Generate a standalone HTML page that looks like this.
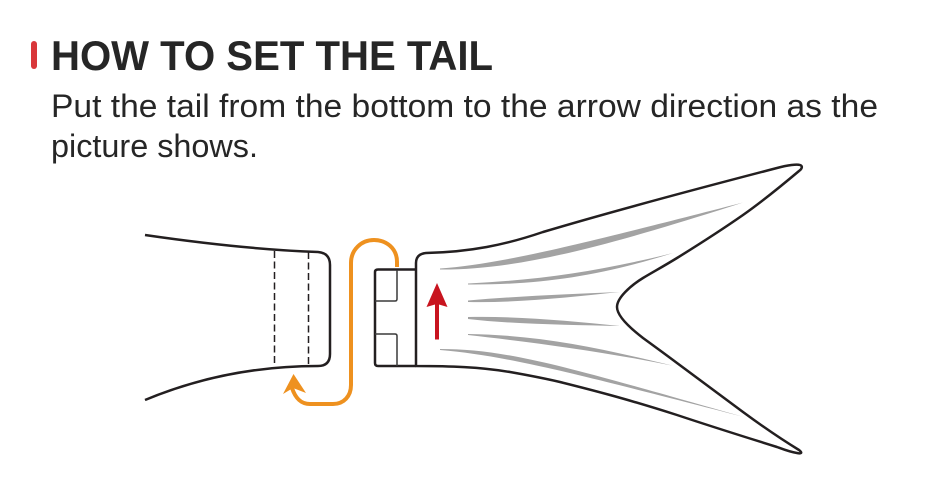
<!DOCTYPE html>
<html><head><meta charset="utf-8"><style>html,body{margin:0;padding:0;background:#fff;width:950px;height:494px;overflow:hidden}svg{display:block}</style></head>
<body>
<svg width="950" height="494" viewBox="0 0 950 494" xmlns="http://www.w3.org/2000/svg">
<rect x="31" y="41" width="6" height="28" rx="3" fill="#d9373a"/>
<g font-family="'Liberation Sans',sans-serif" fill="#262626">
<text x="51" y="70" font-size="42" font-weight="700" textLength="442" lengthAdjust="spacingAndGlyphs">HOW TO SET THE TAIL</text>
<text x="51" y="117" font-size="32" textLength="827" lengthAdjust="spacingAndGlyphs">Put the tail from the bottom to the arrow direction as the</text>
<text x="51" y="157" font-size="32" textLength="207" lengthAdjust="spacingAndGlyphs">picture shows.</text>
</g>
<g fill="none" stroke="#231f20" stroke-width="2.500" stroke-linejoin="round">
<path d="M145 235C200 243 262 250 318 252Q330 253 330 265V354Q330 366 318 366C262 366 205 375 145 400"/>
<path d="M416 366V263Q416 254 426 253C470 252 505 245 543 232C610 212 700 188 777 168C788 165 797 164 800 165C803 166 802 169 799 171C780 187 760 203 743 215C720 231 698 245 677 258C664 266 653 272 643 278C630 286 617 298 617 307C617 316 630 328 643 338C654 346 665 354 677 363L743 412C762 426 781 439 799 450C803 453 801 454 797 453C790 452 785 450 777 447C745 437 710 426 677 415C655 408 632 401 610 395C592 390 576 386 560 382C543 378 527 375 510 372C480 367 450 366 416 366Z"/>
<path d="M375 272Q375 269.500 378 269.500H416M416 366H378Q375 366 375 363V272"/>
</g>
<g fill="none" stroke="#3a3a3a" stroke-width="1.500">
<path d="M397 270V299Q397 301 395 301H375M375 334H395Q397 334 397 336V366"/>
<path d="M274.500 251V366M308.500 252V366" stroke="#231f20" stroke-dasharray="7 3.500"/>
</g>
<path d="M397 267V262C397 248 386 240 374 240C361 240 351 250 351 263V385C351 396 344 404 333 404H310C300 404 295 397 292 388" fill="none" stroke="#ee911f" stroke-width="4"/>
<path d="M293.500 374L306 393L293 388L283 394Z" fill="#ee911f"/>
<path d="M437 283L447.500 307L439 304.500V339.500H435V304.500L426.500 307Z" fill="#c8141f"/>
<g fill="#a3a3a3">
<path d="M440 268.500C500 264 570 247 743 202.500C590 252 510 270 440 269.500Z"/>
<path d="M468 283.500C540 280 600 271 673 253C600 276 540 285 468 284.500Z"/>
<path d="M468 300.500C520 296 570 294 620 292C570 297 520 303 468 302Z"/>
<path d="M468 317C520 316 570 321 620 326C570 325 510 324 468 319Z"/>
<path d="M468 334C540 335 600 348 673 365.700C600 351 530 342 468 335Z"/>
<path d="M440 349C510 349 570 368 743 416.700C580 375 510 356 440 350Z"/>
</g>
</svg>
</body></html>
